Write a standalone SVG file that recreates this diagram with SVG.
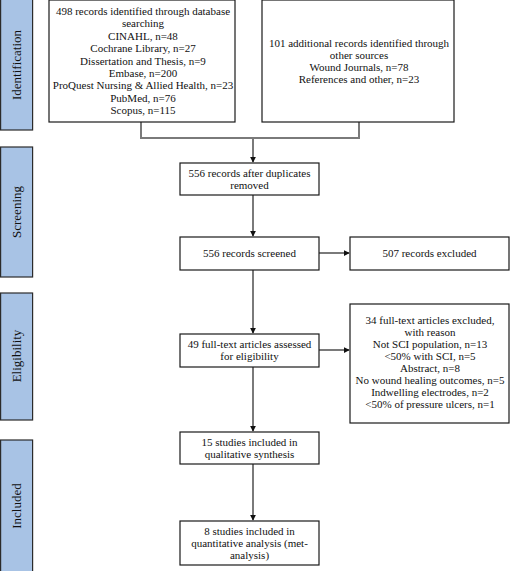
<svg xmlns="http://www.w3.org/2000/svg" width="513" height="571" viewBox="0 0 513 571">
<style>
.bar{fill:#a8c3e5;stroke:#2b2b2b;stroke-width:1.2}
.box{fill:#fff;stroke:#1a1a1a;stroke-width:1.2}
.t{font-family:'Liberation Serif','DejaVu Serif','Times New Roman',serif;font-size:11px;fill:#111;text-anchor:middle}
.s{font-family:'Liberation Serif','DejaVu Serif','Times New Roman',serif;font-size:13px;fill:#111;text-anchor:middle}
.c{fill:none;stroke:#7a7a7a;stroke-width:2}
</style>
<defs>
<marker id="ah" viewBox="0 0 8 8" refX="7" refY="4" markerWidth="6" markerHeight="6" markerUnits="userSpaceOnUse" orient="auto">
<path d="M0,0 L8,4 L0,8 z" fill="#111"/>
</marker>
</defs>
<rect width="513" height="571" fill="#fff"/>
<g id="stage-identification">
<rect class="bar" x="0.6" y="-2" width="32" height="132"/>
<text class="s" transform="translate(21,65) rotate(-90)">Identification</text>
</g>
<g id="stage-screening">
<rect class="bar" x="0.6" y="147" width="32" height="130"/>
<text class="s" transform="translate(21,212) rotate(-90)">Screening</text>
</g>
<g id="stage-eligibility">
<rect class="bar" x="0.6" y="293" width="32" height="127"/>
<text class="s" transform="translate(21,356) rotate(-90)">Eligibility</text>
</g>
<g id="stage-included">
<rect class="bar" x="0.6" y="440" width="32" height="135"/>
<text class="s" transform="translate(21,506) rotate(-90)">Included</text>
</g>
<g id="connectors">
<path class="c" d="M141,122 V138 H359 V122"/>
<path class="c" d="M253,138 V162" marker-end="url(#ah)"/>
<path class="c" d="M253,195 V236" marker-end="url(#ah)"/>
<path class="c" d="M253,270 V333" marker-end="url(#ah)"/>
<path class="c" d="M253,367 V431" marker-end="url(#ah)"/>
<path class="c" d="M253,464 V520" marker-end="url(#ah)"/>
<path class="c" d="M319,253 H349" marker-end="url(#ah)"/>
<path class="c" d="M319,350 H349" marker-end="url(#ah)"/>
</g>
<g id="db-records">
<rect class="box" x="49" y="0" width="186" height="122"/>
<text class="t"><tspan x="143" y="15">498 records identified through database</tspan><tspan x="143" y="27.4">searching</tspan><tspan x="143" y="39.8">CINAHL, n=48</tspan><tspan x="143" y="52.2">Cochrane Library, n=27</tspan><tspan x="143" y="64.6">Dissertation and Thesis, n=9</tspan><tspan x="143" y="77">Embase, n=200</tspan><tspan x="143" y="89.4">ProQuest Nursing &amp; Allied Health, n=23</tspan><tspan x="143" y="101.8">PubMed, n=76</tspan><tspan x="143" y="114.2">Scopus, n=115</tspan></text>
</g>
<g id="other-records">
<rect class="box" x="262" y="0" width="192" height="122"/>
<text class="t"><tspan x="359" y="47">101 additional records identified through</tspan><tspan x="359" y="59">other sources</tspan><tspan x="359" y="71">Wound Journals, n=78</tspan><tspan x="359" y="83">References and other, n=23</tspan></text>
</g>
<g id="after-duplicates">
<rect class="box" x="180" y="163" width="139" height="32"/>
<text class="t"><tspan x="249.5" y="177">556 records after duplicates</tspan><tspan x="249.5" y="189">removed</tspan></text>
</g>
<g id="screened">
<rect class="box" x="180" y="237" width="139" height="33"/>
<text class="t" x="249.5" y="257">556 records screened</text>
</g>
<g id="excluded">
<rect class="box" x="350" y="237" width="159" height="33"/>
<text class="t" x="429.5" y="257">507 records excluded</text>
</g>
<g id="full-text">
<rect class="box" x="180" y="334" width="139" height="33"/>
<text class="t"><tspan x="249.5" y="348">49 full-text articles assessed</tspan><tspan x="249.5" y="360">for eligibility</tspan></text>
</g>
<g id="full-text-excluded">
<rect class="box" x="350" y="304" width="159" height="119"/>
<text class="t"><tspan x="430" y="324">34 full-text articles excluded,</tspan><tspan x="430" y="336">with reason</tspan><tspan x="430" y="348">Not SCI population, n=13</tspan><tspan x="430" y="360">&lt;50% with SCI, n=5</tspan><tspan x="430" y="372">Abstract, n=8</tspan><tspan x="430" y="384">No wound healing outcomes, n=5</tspan><tspan x="430" y="396">Indwelling electrodes, n=2</tspan><tspan x="430" y="408">&lt;50% of pressure ulcers, n=1</tspan></text>
</g>
<g id="qualitative">
<rect class="box" x="180" y="432" width="139" height="32"/>
<text class="t"><tspan x="249.5" y="446">15 studies included in</tspan><tspan x="249.5" y="458">qualitative synthesis</tspan></text>
</g>
<g id="quantitative">
<rect class="box" x="180" y="521" width="139" height="44"/>
<text class="t"><tspan x="249.5" y="535">8 studies included in</tspan><tspan x="249.5" y="547">quantitative analysis (met-</tspan><tspan x="249.5" y="559">analysis)</tspan></text>
</g>
</svg>
